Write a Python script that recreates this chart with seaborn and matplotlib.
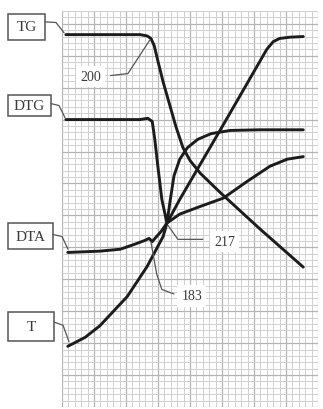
import numpy as np
import pandas as pd
import matplotlib
matplotlib.use('Agg')
import matplotlib.pyplot as plt
from matplotlib.patches import Rectangle
import seaborn as sns

# curves (x, y in grid cells)
tg_x = [0.6, 12.2, 13.3, 13.9, 14.4, 15.0, 15.8, 16.6, 17.8, 18.9, 20.0, 21.6, 24.7, 30.9, 37.7]
tg_y = [58.3, 58.3, 58.1, 57.7, 56.6, 54.1, 50.9, 48.1, 43.9, 40.6, 38.6, 36.6, 33.6, 27.9, 21.9]

dtg_x = [0.6, 12.2, 13.4, 14.1, 14.5, 15.0, 15.6, 16.4, 16.9, 17.5, 18.4, 19.6, 21.2, 23.3, 26.3, 30.9, 37.7]
dtg_y = [45.0, 45.0, 45.2, 44.7, 41.9, 37.5, 32.5, 28.8, 32.3, 36.2, 38.8, 40.6, 41.9, 42.8, 43.3, 43.4, 43.4]

dta_x = [0.9, 5.9, 9.1, 11.4, 13.0, 13.6, 14.1, 14.7, 15.5, 16.4, 18.4, 21.6, 25.2, 28.9, 32.5, 35.2, 37.7]
dta_y = [24.2, 24.4, 24.7, 25.5, 26.1, 26.4, 25.9, 26.6, 27.5, 28.8, 30.2, 31.4, 32.7, 35.3, 37.7, 38.8, 39.2]

t_x = [0.9, 3.6, 5.9, 10.2, 13.3, 15.8, 16.4, 18.4, 25.5, 32.0, 33.0, 34.0, 35.6, 37.7]
t_y = [9.5, 10.9, 12.7, 17.3, 22.0, 26.7, 28.8, 32.5, 44.7, 56.0, 57.2, 57.7, 57.9, 58.0]

curve_names = ['TG', 'DTG', 'DTA', 'T']
peak_labels = ['200', '217', '183']

sns.set_style('white')
plt.rcParams['font.family'] = ['Liberation Serif', 'DejaVu Serif']

fig = plt.figure(figsize=(3.23, 4.10), dpi=100)
ax = fig.add_axes([62 / 323, 2 / 410, 256 / 323, 396 / 410])
ax.set_xlim(0, 40)
ax.set_ylim(0, 62)

# graph paper
ax.set_xticks(np.arange(0, 41, 5))
ax.set_yticks(np.arange(0, 63, 5))
ax.set_xticks(np.arange(0, 41, 1), minor=True)
ax.set_yticks(np.arange(0, 63, 1), minor=True)
ax.grid(True, which='minor', color='#d0d0d0', lw=0.7)
ax.grid(True, which='major', color='#b4b4b4', lw=0.9)
ax.tick_params(which='both', length=0, labelbottom=False, labelleft=False)
for s in ax.spines.values():
    s.set_visible(False)
ax.set_axisbelow(True)

ink = '#1c1c1c'
for xs, ys in [(tg_x, tg_y), (dtg_x, dtg_y), (dta_x, dta_y), (t_x, t_y)]:
    d = pd.DataFrame({'x': xs, 'y': ys})
    sns.lineplot(data=d, x='x', y='y', sort=False, estimator=None, ax=ax,
                 color=ink, lw=2.1, solid_joinstyle='round', solid_capstyle='round')
ax.set_xlabel('')
ax.set_ylabel('')

# name boxes on the left with their little hooks
boxes = [(-8.44, 57.5, 5.8, 4.1), (-8.44, 45.6, 6.7, 3.3),
         (-8.44, 24.7, 7.0, 4.05), (-8.44, 10.3, 7.2, 4.5)]
hooks = [([-2.66, -0.94, 0.31], [60.3, 60.2, 58.6]),
         ([-1.72, -0.47, 0.47], [47.5, 47.2, 45.3]),
         ([-1.4, 0.0, 0.94], [27.0, 26.7, 24.7]),
         ([-1.25, 0.16, 1.1], [13.3, 12.8, 10.2])]
for name, (bx, by, bw, bh), (hx, hy) in zip(curve_names, boxes, hooks):
    ax.add_patch(Rectangle((bx, by), bw, bh, fill=False, ec='#555555', lw=1.1, clip_on=False))
    ax.text(bx + bw / 2, by + bh / 2, name, ha='center', va='center', fontsize=11,
            color='#3a3a3a', clip_on=False)
    ax.plot(hx, hy, color='#555555', lw=0.9, clip_on=False)

# peak temperature call-outs
leaders = [([7.6, 10.3, 13.75], [51.9, 52.2, 57.5]),
           ([16.6, 18.1, 22.0], [28.4, 26.25, 26.25]),
           ([13.9, 14.8, 15.6, 17.5], [25.8, 20.8, 18.4, 17.7])]
spots = [(4.5, 51.7), (25.4, 25.9), (20.3, 17.4)]
for lab, (lx, ly), (tx, ty) in zip(peak_labels, leaders, spots):
    ax.plot(lx, ly, color='#555555', lw=0.9)
    ax.text(tx, ty, lab, ha='center', va='center', fontsize=10, color='#3a3a3a',
            bbox=dict(boxstyle='square,pad=0.3', fc='white', ec='none'))

plt.savefig('out.png', dpi=100)
plt.close()
